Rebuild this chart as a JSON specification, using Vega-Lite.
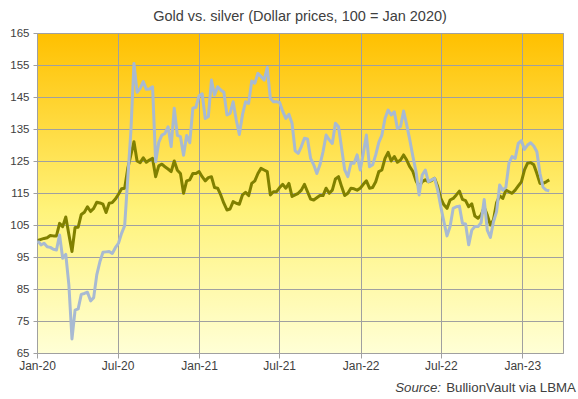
{
  "$schema": "https://vega.github.io/schema/vega-lite/v6.json",
  "width": 526,
  "height": 320,
  "autosize": "none",
  "padding": {"left": 37, "top": 33, "right": 15, "bottom": 46},
  "background": "white",
  "title": {
    "text": "Gold vs. silver (Dollar prices, 100 = Jan 2020)",
    "font": "Liberation Sans",
    "fontSize": 14.5,
    "fontWeight": "normal",
    "color": "#404040",
    "anchor": "middle",
    "offset": 3
  },
  "config": {
    "view": {
      "stroke": "#A0A0A0",
      "strokeWidth": 1,
      "fill": {
        "gradient": "linear",
        "x1": 0, "y1": 0, "x2": 0, "y2": 1,
        "stops": [
          {"offset": 0, "color": "#FFC000"},
          {"offset": 0.55, "color": "#FFF37A"},
          {"offset": 1, "color": "#FFFFD6"}
        ]
      }
    },
    "axis": {
      "title": null,
      "grid": true,
      "gridColor": "#A0A0A0",
      "gridOpacity": 1,
      "domain": false,
      "tickColor": "#A0A0A0",
      "labelFlush": false,
      "labelOverlap": false,
      "labelFont": "Liberation Sans",
      "labelColor": "#404040"
    },
    "axisX": {"tickSize": 5, "labelFontSize": 12, "labelPadding": 2},
    "axisY": {"tickSize": 4, "labelFontSize": 11.5, "labelPadding": 4}
  },
  "layer": [
    {
      "data": {
        "values": [
          {"d": "2020-01-03", "Gold": 100.2, "Silver": 100.0},
          {"d": "2020-01-10", "Gold": 100.5, "Silver": 98.8},
          {"d": "2020-01-17", "Gold": 100.8, "Silver": 99.3},
          {"d": "2020-01-24", "Gold": 101.0, "Silver": 98.2},
          {"d": "2020-01-31", "Gold": 101.7, "Silver": 98.0},
          {"d": "2020-02-07", "Gold": 101.6, "Silver": 97.4},
          {"d": "2020-02-14", "Gold": 101.6, "Silver": 97.2},
          {"d": "2020-02-21", "Gold": 105.5, "Silver": 101.9},
          {"d": "2020-02-28", "Gold": 104.5, "Silver": 94.6},
          {"d": "2020-03-06", "Gold": 107.5, "Silver": 95.8},
          {"d": "2020-03-13", "Gold": 102.0, "Silver": 86.3},
          {"d": "2020-03-20", "Gold": 96.7, "Silver": 69.4},
          {"d": "2020-03-27", "Gold": 104.2, "Silver": 78.4},
          {"d": "2020-04-03", "Gold": 104.3, "Silver": 78.8},
          {"d": "2020-04-10", "Gold": 108.3, "Silver": 83.3},
          {"d": "2020-04-17", "Gold": 109.0, "Silver": 83.6},
          {"d": "2020-04-24", "Gold": 110.7, "Silver": 84.0},
          {"d": "2020-05-01", "Gold": 109.2, "Silver": 81.3},
          {"d": "2020-05-08", "Gold": 110.2, "Silver": 82.3},
          {"d": "2020-05-15", "Gold": 112.1, "Silver": 89.4},
          {"d": "2020-05-22", "Gold": 111.9, "Silver": 93.5},
          {"d": "2020-05-29", "Gold": 111.5, "Silver": 96.5},
          {"d": "2020-06-05", "Gold": 108.9, "Silver": 96.6},
          {"d": "2020-06-12", "Gold": 111.8, "Silver": 96.7},
          {"d": "2020-06-19", "Gold": 112.0, "Silver": 96.1},
          {"d": "2020-06-26", "Gold": 113.1, "Silver": 97.9},
          {"d": "2020-07-03", "Gold": 114.6, "Silver": 99.3},
          {"d": "2020-07-10", "Gold": 116.3, "Silver": 102.4},
          {"d": "2020-07-17", "Gold": 116.5, "Silver": 104.8},
          {"d": "2020-07-24", "Gold": 122.7, "Silver": 119.6},
          {"d": "2020-07-31", "Gold": 126.9, "Silver": 134.2},
          {"d": "2020-08-07", "Gold": 131.0, "Silver": 155.5},
          {"d": "2020-08-14", "Gold": 125.0, "Silver": 146.5},
          {"d": "2020-08-21", "Gold": 124.5, "Silver": 147.7},
          {"d": "2020-08-28", "Gold": 126.0, "Silver": 149.8},
          {"d": "2020-09-04", "Gold": 124.6, "Silver": 147.4},
          {"d": "2020-09-11", "Gold": 125.3, "Silver": 147.5},
          {"d": "2020-09-18", "Gold": 125.8, "Silver": 148.2},
          {"d": "2020-09-25", "Gold": 120.1, "Silver": 124.8},
          {"d": "2020-10-02", "Gold": 123.5, "Silver": 130.8},
          {"d": "2020-10-09", "Gold": 124.0, "Silver": 133.1},
          {"d": "2020-10-16", "Gold": 123.2, "Silver": 133.6},
          {"d": "2020-10-23", "Gold": 122.5, "Silver": 135.7},
          {"d": "2020-10-30", "Gold": 121.7, "Silver": 129.5},
          {"d": "2020-11-06", "Gold": 125.0, "Silver": 141.5},
          {"d": "2020-11-13", "Gold": 122.1, "Silver": 133.0},
          {"d": "2020-11-20", "Gold": 121.1, "Silver": 132.6},
          {"d": "2020-11-27", "Gold": 114.9, "Silver": 126.8},
          {"d": "2020-12-04", "Gold": 118.8, "Silver": 133.0},
          {"d": "2020-12-11", "Gold": 119.1, "Silver": 130.7},
          {"d": "2020-12-18", "Gold": 121.1, "Silver": 141.5},
          {"d": "2020-12-25", "Gold": 121.1, "Silver": 141.8},
          {"d": "2021-01-01", "Gold": 121.7, "Silver": 145.4},
          {"d": "2021-01-08", "Gold": 120.1, "Silver": 146.0},
          {"d": "2021-01-15", "Gold": 118.8, "Silver": 138.3},
          {"d": "2021-01-22", "Gold": 119.8, "Silver": 138.9},
          {"d": "2021-01-29", "Gold": 120.1, "Silver": 150.3},
          {"d": "2021-02-05", "Gold": 116.7, "Silver": 145.6},
          {"d": "2021-02-12", "Gold": 116.5, "Silver": 148.2},
          {"d": "2021-02-19", "Gold": 114.4, "Silver": 147.2},
          {"d": "2021-02-26", "Gold": 111.8, "Silver": 146.5},
          {"d": "2021-03-05", "Gold": 109.7, "Silver": 139.4},
          {"d": "2021-03-12", "Gold": 110.0, "Silver": 139.9},
          {"d": "2021-03-19", "Gold": 112.3, "Silver": 143.5},
          {"d": "2021-03-26", "Gold": 111.8, "Silver": 137.8},
          {"d": "2021-04-02", "Gold": 111.5, "Silver": 133.3},
          {"d": "2021-04-09", "Gold": 114.4, "Silver": 139.4},
          {"d": "2021-04-16", "Gold": 115.2, "Silver": 143.5},
          {"d": "2021-04-23", "Gold": 114.2, "Silver": 143.0},
          {"d": "2021-04-30", "Gold": 118.0, "Silver": 150.0},
          {"d": "2021-05-07", "Gold": 118.8, "Silver": 149.3},
          {"d": "2021-05-14", "Gold": 121.1, "Silver": 152.4},
          {"d": "2021-05-21", "Gold": 122.7, "Silver": 151.4},
          {"d": "2021-05-28", "Gold": 122.2, "Silver": 150.3},
          {"d": "2021-06-04", "Gold": 121.7, "Silver": 154.2},
          {"d": "2021-06-11", "Gold": 114.4, "Silver": 144.6},
          {"d": "2021-06-18", "Gold": 115.4, "Silver": 143.5},
          {"d": "2021-06-25", "Gold": 115.4, "Silver": 143.5},
          {"d": "2021-07-02", "Gold": 116.7, "Silver": 143.3},
          {"d": "2021-07-09", "Gold": 117.7, "Silver": 140.5},
          {"d": "2021-07-16", "Gold": 116.5, "Silver": 138.3},
          {"d": "2021-07-23", "Gold": 118.0, "Silver": 139.6},
          {"d": "2021-07-30", "Gold": 113.9, "Silver": 136.8},
          {"d": "2021-08-06", "Gold": 114.4, "Silver": 128.2},
          {"d": "2021-08-13", "Gold": 114.9, "Silver": 127.4},
          {"d": "2021-08-20", "Gold": 115.9, "Silver": 129.5},
          {"d": "2021-08-27", "Gold": 117.7, "Silver": 132.1},
          {"d": "2021-09-03", "Gold": 115.4, "Silver": 131.9},
          {"d": "2021-09-10", "Gold": 113.1, "Silver": 125.8},
          {"d": "2021-09-17", "Gold": 112.8, "Silver": 123.8},
          {"d": "2021-09-24", "Gold": 113.5, "Silver": 121.1},
          {"d": "2021-10-01", "Gold": 114.2, "Silver": 123.8},
          {"d": "2021-10-08", "Gold": 114.2, "Silver": 127.9},
          {"d": "2021-10-15", "Gold": 116.5, "Silver": 133.1},
          {"d": "2021-10-22", "Gold": 114.9, "Silver": 131.6},
          {"d": "2021-10-29", "Gold": 115.9, "Silver": 130.5},
          {"d": "2021-11-05", "Gold": 119.4, "Silver": 136.8},
          {"d": "2021-11-12", "Gold": 120.1, "Silver": 135.7},
          {"d": "2021-11-19", "Gold": 117.0, "Silver": 129.0},
          {"d": "2021-11-26", "Gold": 114.2, "Silver": 122.2},
          {"d": "2021-12-03", "Gold": 114.9, "Silver": 120.1},
          {"d": "2021-12-10", "Gold": 116.5, "Silver": 124.3},
          {"d": "2021-12-17", "Gold": 116.3, "Silver": 124.3},
          {"d": "2021-12-24", "Gold": 115.9, "Silver": 126.9},
          {"d": "2021-12-31", "Gold": 116.5, "Silver": 122.2},
          {"d": "2022-01-07", "Gold": 117.7, "Silver": 127.4},
          {"d": "2022-01-14", "Gold": 118.8, "Silver": 133.1},
          {"d": "2022-01-21", "Gold": 116.5, "Silver": 123.2},
          {"d": "2022-01-28", "Gold": 116.7, "Silver": 123.8},
          {"d": "2022-02-04", "Gold": 118.5, "Silver": 126.9},
          {"d": "2022-02-11", "Gold": 121.7, "Silver": 130.8},
          {"d": "2022-02-18", "Gold": 122.2, "Silver": 133.1},
          {"d": "2022-02-25", "Gold": 125.8, "Silver": 138.3},
          {"d": "2022-03-04", "Gold": 127.7, "Silver": 140.9},
          {"d": "2022-03-11", "Gold": 125.0, "Silver": 139.4},
          {"d": "2022-03-18", "Gold": 126.4, "Silver": 140.4},
          {"d": "2022-03-25", "Gold": 124.6, "Silver": 135.2},
          {"d": "2022-04-01", "Gold": 125.3, "Silver": 135.7},
          {"d": "2022-04-08", "Gold": 126.9, "Silver": 140.6},
          {"d": "2022-04-15", "Gold": 125.3, "Silver": 136.3},
          {"d": "2022-04-22", "Gold": 123.2, "Silver": 131.6},
          {"d": "2022-04-29", "Gold": 121.7, "Silver": 126.4},
          {"d": "2022-05-06", "Gold": 118.8, "Silver": 121.7},
          {"d": "2022-05-13", "Gold": 117.0, "Silver": 114.4},
          {"d": "2022-05-20", "Gold": 118.5, "Silver": 120.6},
          {"d": "2022-05-27", "Gold": 119.1, "Silver": 122.2},
          {"d": "2022-06-03", "Gold": 118.5, "Silver": 118.5},
          {"d": "2022-06-10", "Gold": 118.9, "Silver": 119.1},
          {"d": "2022-06-17", "Gold": 119.6, "Silver": 119.6},
          {"d": "2022-06-24", "Gold": 117.0, "Silver": 115.9},
          {"d": "2022-07-01", "Gold": 113.3, "Silver": 110.7},
          {"d": "2022-07-08", "Gold": 111.3, "Silver": 106.0},
          {"d": "2022-07-15", "Gold": 110.2, "Silver": 101.6},
          {"d": "2022-07-22", "Gold": 112.8, "Silver": 104.5},
          {"d": "2022-07-29", "Gold": 113.3, "Silver": 110.2},
          {"d": "2022-08-05", "Gold": 114.4, "Silver": 110.7},
          {"d": "2022-08-12", "Gold": 115.6, "Silver": 110.9},
          {"d": "2022-08-19", "Gold": 113.0, "Silver": 105.5},
          {"d": "2022-08-26", "Gold": 112.6, "Silver": 105.3},
          {"d": "2022-09-02", "Gold": 110.7, "Silver": 98.8},
          {"d": "2022-09-09", "Gold": 111.6, "Silver": 103.4},
          {"d": "2022-09-16", "Gold": 107.8, "Silver": 104.5},
          {"d": "2022-09-23", "Gold": 107.1, "Silver": 104.5},
          {"d": "2022-09-30", "Gold": 108.1, "Silver": 105.7},
          {"d": "2022-10-07", "Gold": 110.5, "Silver": 113.0},
          {"d": "2022-10-14", "Gold": 108.1, "Silver": 103.4},
          {"d": "2022-10-21", "Gold": 105.0, "Silver": 101.1},
          {"d": "2022-10-28", "Gold": 106.6, "Silver": 106.0},
          {"d": "2022-11-04", "Gold": 112.0, "Silver": 109.2},
          {"d": "2022-11-11", "Gold": 114.1, "Silver": 117.5},
          {"d": "2022-11-18", "Gold": 113.3, "Silver": 115.9},
          {"d": "2022-11-25", "Gold": 115.9, "Silver": 116.8},
          {"d": "2022-12-02", "Gold": 115.4, "Silver": 124.3},
          {"d": "2022-12-09", "Gold": 114.9, "Silver": 126.4},
          {"d": "2022-12-16", "Gold": 115.9, "Silver": 125.8},
          {"d": "2022-12-23", "Gold": 117.2, "Silver": 130.5},
          {"d": "2022-12-30", "Gold": 118.5, "Silver": 131.4},
          {"d": "2023-01-06", "Gold": 122.2, "Silver": 128.6},
          {"d": "2023-01-13", "Gold": 124.3, "Silver": 130.0},
          {"d": "2023-01-20", "Gold": 124.5, "Silver": 130.7},
          {"d": "2023-01-27", "Gold": 123.8, "Silver": 129.7},
          {"d": "2023-02-03", "Gold": 121.1, "Silver": 127.9},
          {"d": "2023-02-10", "Gold": 118.0, "Silver": 121.1},
          {"d": "2023-02-17", "Gold": 118.0, "Silver": 116.8},
          {"d": "2023-02-24", "Gold": 118.5, "Silver": 115.9},
          {"d": "2023-03-03", "Gold": 119.1, "Silver": 115.7}
        ]
      },
      "transform": [{"fold": ["Gold", "Silver"], "as": ["metal", "v"]}],
      "mark": {"type": "line", "strokeWidth": 3, "strokeJoin": "round"},
      "encoding": {
        "x": {
          "field": "d",
          "type": "temporal",
          "scale": {
            "type": "utc",
            "domain": [
              {"year": 2020, "month": "jan", "date": 1, "utc": true},
              {"year": 2023, "month": "apr", "date": 3, "utc": true}
            ]
          },
          "axis": {
            "values": [
              {"year": 2020, "month": "jan", "date": 1, "utc": true},
              {"year": 2020, "month": "jul", "date": 1, "utc": true},
              {"year": 2021, "month": "jan", "date": 1, "utc": true},
              {"year": 2021, "month": "jul", "date": 1, "utc": true},
              {"year": 2022, "month": "jan", "date": 1, "utc": true},
              {"year": 2022, "month": "jul", "date": 1, "utc": true},
              {"year": 2023, "month": "jan", "date": 1, "utc": true}
            ],
            "format": "%b-%y"
          }
        },
        "y": {
          "field": "v",
          "type": "quantitative",
          "scale": {"domain": [65, 165], "nice": false, "zero": false},
          "axis": {"values": [65, 75, 85, 95, 105, 115, 125, 135, 145, 155, 165]}
        },
        "color": {
          "field": "metal",
          "type": "nominal",
          "scale": {"domain": ["Gold", "Silver"], "range": ["#808000", "#A8BAD2"]},
          "legend": null
        }
      }
    },
    {
      "data": {"values": [{"t": "BullionVault via LBMA"}]},
      "mark": {"type": "text", "align": "right", "baseline": "alphabetic", "dx": 13, "dy": 39, "font": "Liberation Sans", "fontSize": 13.3, "color": "#404040"},
      "encoding": {
        "text": {"field": "t"},
        "x": {
          "datum": {"year": 2023, "month": "apr", "date": 3, "utc": true},
          "type": "temporal",
          "axis": {
            "values": [
              {"year": 2020, "month": "jan", "date": 1, "utc": true},
              {"year": 2020, "month": "jul", "date": 1, "utc": true},
              {"year": 2021, "month": "jan", "date": 1, "utc": true},
              {"year": 2021, "month": "jul", "date": 1, "utc": true},
              {"year": 2022, "month": "jan", "date": 1, "utc": true},
              {"year": 2022, "month": "jul", "date": 1, "utc": true},
              {"year": 2023, "month": "jan", "date": 1, "utc": true}
            ],
            "format": "%b-%y"
          }
        },
        "y": {"datum": 65, "type": "quantitative", "axis": {"values": [65, 75, 85, 95, 105, 115, 125, 135, 145, 155, 165]}}
      }
    },
    {
      "data": {"values": [{"t": "Source:"}]},
      "mark": {"type": "text", "align": "right", "baseline": "alphabetic", "dx": -122, "dy": 39, "font": "Liberation Sans", "fontSize": 13.3, "fontStyle": "italic", "color": "#404040"},
      "encoding": {
        "text": {"field": "t"},
        "x": {
          "datum": {"year": 2023, "month": "apr", "date": 3, "utc": true},
          "type": "temporal",
          "axis": {
            "values": [
              {"year": 2020, "month": "jan", "date": 1, "utc": true},
              {"year": 2020, "month": "jul", "date": 1, "utc": true},
              {"year": 2021, "month": "jan", "date": 1, "utc": true},
              {"year": 2021, "month": "jul", "date": 1, "utc": true},
              {"year": 2022, "month": "jan", "date": 1, "utc": true},
              {"year": 2022, "month": "jul", "date": 1, "utc": true},
              {"year": 2023, "month": "jan", "date": 1, "utc": true}
            ],
            "format": "%b-%y"
          }
        },
        "y": {"datum": 65, "type": "quantitative", "axis": {"values": [65, 75, 85, 95, 105, 115, 125, 135, 145, 155, 165]}}
      }
    }
  ]
}
